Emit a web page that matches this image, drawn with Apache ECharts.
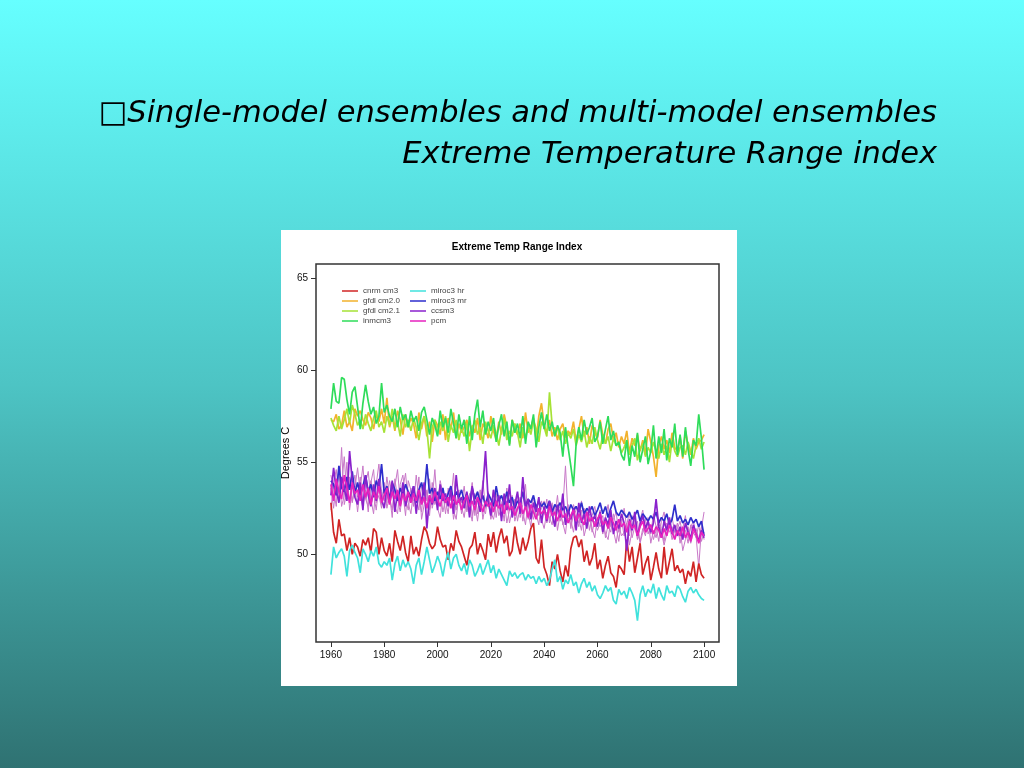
<!DOCTYPE html>
<html>
<head>
<meta charset="utf-8">
<script src="https://cdn.jsdelivr.net/npm/echarts@6/dist/echarts.min.js"></script>
<style>
html,body{margin:0;padding:0;}
#page{width:1024px;height:768px;background:linear-gradient(to bottom,#66FFFF 0%,#4DC4C4 50%,#2F7272 100%);}
#chart{width:1024px;height:768px;}
</style>
</head>
<body>
<div id="page"><div id="chart"></div></div>
<script>
const slideTitle1 = "□Single-model ensembles and multi-model ensembles";
const slideTitle2 = "Extreme Temperature Range index";
const plotTitle = "Extreme Temp Range Index";
const yAxisName = "Degrees C";
const xTicks = [1960,1980,2000,2020,2040,2060,2080,2100];
const yTicks = [50,55,60,65];
const years = [1960,1961,1962,1963,1964,1965,1966,1967,1968,1969,1970,1971,1972,1973,1974,1975,1976,1977,1978,1979,1980,1981,1982,1983,1984,1985,1986,1987,1988,1989,1990,1991,1992,1993,1994,1995,1996,1997,1998,1999,2000,2001,2002,2003,2004,2005,2006,2007,2008,2009,2010,2011,2012,2013,2014,2015,2016,2017,2018,2019,2020,2021,2022,2023,2024,2025,2026,2027,2028,2029,2030,2031,2032,2033,2034,2035,2036,2037,2038,2039,2040,2041,2042,2043,2044,2045,2046,2047,2048,2049,2050,2051,2052,2053,2054,2055,2056,2057,2058,2059,2060,2061,2062,2063,2064,2065,2066,2067,2068,2069,2070,2071,2072,2073,2074,2075,2076,2077,2078,2079,2080,2081,2082,2083,2084,2085,2086,2087,2088,2089,2090,2091,2092,2093,2094,2095,2096,2097,2098,2099,2100];

const cnrm = [52.8,51.2,50.6,51.9,51.0,51.1,50.2,50.9,50.0,50.6, 50.4,49.9,50.8,50.5,50.9,50.1,51.4,51.2,50.0,50.9, 50.2,49.9,50.6,49.6,51.3,50.7,50.2,51.0,50.1,49.6, 51.0,50.0,50.4,49.9,50.8,51.5,51.2,50.6,50.3,50.5, 51.5,50.8,50.4,50.5,49.7,50.6,50.2,51.3,50.7,50.4, 49.9,49.4,50.3,50.5,51.2,50.0,50.6,50.2,49.7,51.1, 50.4,51.2,50.1,50.9,51.4,50.6,51.0,49.9,50.2,51.5, 50.6,50.0,50.9,50.2,50.7,51.4,51.7,49.8,49.5,50.8, 49.3,48.9,48.3,49.6,49.2,50.0,49.1,48.5,49.4,48.8, 50.3,50.9,51.0,50.4,50.8,49.6,50.2,49.4,49.8,50.6, 49.2,49.7,48.7,49.4,49.9,49.0,48.8,48.2,49.4,49.2, 48.9,50.8,49.6,50.4,49.0,49.8,50.6,48.9,49.5,49.9, 48.6,49.3,50.1,49.2,48.7,50.4,48.9,49.6,50.3,49.1, 49.4,49.0,49.2,48.4,49.1,48.8,49.6,48.5,49.5,48.9, 48.7];
const gfdl20 = [57.3,57.2,57.6,56.8,57.0,57.8,56.9,57.2,56.7,57.9, 57.5,57.8,57.3,57.0,57.7,57.4,56.8,57.6,57.2,57.9, 57.1,58.5,56.9,57.5,56.7,57.8,57.3,56.5,57.6,56.9, 57.4,57.1,56.3,57.7,56.8,57.5,56.4,57.2,56.1,57.3, 57.0,56.5,57.6,56.2,57.4,56.8,57.7,56.3,57.1,56.6, 56.9,57.3,56.4,57.0,56.6,57.4,56.2,57.1,56.8,56.3, 57.5,56.7,56.2,57.2,56.5,57.6,56.9,56.0,57.3,56.8, 56.5,57.1,56.3,57.7,56.6,56.9,57.4,56.2,57.5,58.2, 57.0,56.6,57.3,56.4,56.9,56.2,56.8,57.1,56.3,56.7, 56.5,57.2,56.1,56.8,57.5,56.4,56.9,56.0,57.0,56.6, 56.3,57.3,56.5,56.0,56.8,57.1,56.2,56.6,55.8,56.4, 56.0,56.7,55.5,56.3,55.9,56.5,55.6,56.2,55.4,56.8, 56.1,55.3,54.2,55.9,56.4,55.7,56.2,55.5,56.6,55.8, 55.6,56.4,55.2,56.7,55.9,55.4,56.3,55.7,56.1,56.2, 56.5];
const gfdl21 = [57.4,57.0,56.7,57.5,56.8,57.3,57.9,57.1,58.1,57.6, 57.0,57.3,56.8,57.6,57.1,56.7,57.4,57.8,56.9,57.2, 56.6,57.5,57.0,57.9,56.8,57.2,56.4,57.6,56.9,57.3, 56.7,57.4,56.9,56.2,57.1,57.5,56.8,55.2,56.9,57.3, 56.5,57.2,56.7,57.5,56.1,57.0,56.6,57.3,56.2,56.9, 56.4,57.1,55.6,56.8,57.3,56.5,56.9,56.0,57.2,56.7, 56.3,57.0,56.6,55.9,56.8,57.4,56.2,56.7,56.4,57.1, 56.6,55.8,56.9,56.3,57.0,56.5,57.3,56.8,56.1,57.2, 56.9,56.4,58.8,57.0,56.5,56.9,56.2,56.7,56.0,56.6, 56.3,56.8,55.9,56.5,56.1,56.7,55.8,56.4,56.0,56.9, 56.2,55.7,56.5,56.0,56.4,55.6,56.3,55.9,56.1,55.5, 55.8,56.2,55.4,55.9,56.3,55.1,55.7,56.0,55.3,55.8, 55.5,56.1,55.6,55.2,56.0,55.4,55.9,55.0,56.2,55.6, 55.3,55.8,55.9,55.4,56.1,55.6,55.2,55.9,56.3,55.7, 56.1];
const inmcm3 = [57.9,59.3,58.3,58.2,59.6,59.5,58.4,57.6,58.8,59.1, 58.0,56.8,58.2,59.2,58.3,57.6,58.0,57.1,57.5,59.3, 57.7,58.1,57.5,57.2,57.9,56.9,58.0,57.3,57.6,56.9, 57.8,57.2,57.5,56.7,57.7,58.0,57.3,56.5,57.4,57.0, 56.4,57.8,56.9,57.4,56.6,57.9,57.1,56.3,57.6,56.8, 57.3,56.0,57.5,56.2,57.6,58.4,56.9,57.8,56.5,57.2, 56.7,57.4,56.1,57.0,57.6,56.4,57.2,55.9,57.3,56.6, 57.1,56.3,57.5,56.0,57.2,56.8,57.6,55.8,56.9,57.7, 56.8,57.6,56.7,57.2,56.4,57.0,56.6,55.3,56.9,55.8, 54.8,53.7,56.0,56.9,56.2,57.3,56.5,56.9,57.4,56.1, 56.4,57.2,56.0,56.8,57.5,56.2,56.7,55.9,56.1,55.4, 55.1,56.2,54.8,55.9,55.3,56.6,55.0,55.7,56.4,54.9, 55.6,57.0,55.2,56.4,55.5,56.8,55.1,56.3,55.8,57.1, 55.4,56.5,55.3,56.9,55.7,54.8,56.2,55.9,57.6,56.3, 54.6];
const miroc3hr = [48.9,50.4,49.8,50.1,50.3,49.9,48.8,50.2,50.5,50.1, 49.8,49.0,50.3,50.0,49.6,50.2,49.9,50.4,49.5,49.3, 49.6,49.4,49.8,48.6,49.5,49.9,49.1,49.7,49.3,49.6, 49.2,48.4,49.4,49.8,48.9,49.6,50.4,49.7,49.0,49.4, 49.9,49.5,48.8,49.6,50.1,49.2,49.8,50.0,49.4,49.1, 49.5,48.9,49.7,49.4,48.8,49.1,49.5,48.9,49.3,49.7, 49.0,49.4,48.7,49.2,48.9,48.6,48.3,49.1,48.8,49.0, 48.7,48.9,49.0,48.6,48.9,48.7,48.8,48.4,48.8,48.5, 48.7,48.3,48.6,49.2,49.7,48.5,48.8,48.1,48.6,48.4, 48.9,48.3,48.5,47.9,48.4,48.7,48.2,48.5,48.0,48.3, 47.8,47.6,47.9,48.3,48.0,48.2,47.5,47.3,48.1,47.8, 48.0,47.6,48.2,47.9,47.5,46.4,47.8,48.3,47.7,48.1, 47.9,48.4,47.6,48.2,47.8,47.5,48.3,47.9,48.0,47.7, 48.3,48.1,47.7,47.4,48.0,48.2,47.9,48.1,47.8,47.6, 47.5];
const miroc3mr = [54.0,53.8,53.2,54.8,53.6,53.4,54.2,53.5,54.5,53.3, 53.9,53.2,53.7,54.3,53.4,53.8,53.1,54.0,53.6,54.9, 53.3,53.7,53.0,53.9,53.5,52.9,53.6,53.2,53.8,53.4, 53.1,53.7,52.8,53.5,53.9,53.2,54.9,53.3,53.6,52.9, 53.4,53.0,53.6,52.8,53.3,53.7,52.9,53.4,53.1,53.5, 52.9,53.3,52.7,53.6,53.0,53.4,52.8,53.2,52.6,53.3, 53.0,52.6,53.7,52.9,53.2,52.7,53.4,52.8,53.1,52.5, 52.9,52.7,53.4,52.6,53.0,52.8,53.2,52.5,52.9,52.6, 52.8,52.5,52.9,52.3,52.7,52.5,52.8,52.4,52.6,52.2, 52.7,52.4,52.6,52.3,52.8,52.2,52.5,52.3,52.6,52.1, 52.4,52.8,52.2,52.6,52.0,52.5,52.9,52.3,52.1,52.4, 52.2,52.0,52.3,51.9,52.1,52.4,51.8,52.2,52.0,51.8, 52.1,51.9,52.3,51.7,52.0,51.8,52.2,51.6,51.9,52.7, 51.8,52.1,51.7,51.9,51.6,52.0,51.7,51.9,51.5,51.8, 51.0];
const ccsm3 = [53.2,54.7,53.5,52.8,54.2,53.6,52.9,55.6,54.0,53.1, 52.7,53.9,52.4,54.3,53.2,52.6,53.8,52.9,54.1,53.0, 52.5,53.6,52.8,54.0,52.3,53.4,52.7,53.9,52.6,53.3, 52.9,53.7,52.2,53.5,52.8,53.9,51.4,53.2,52.7,53.6, 52.4,53.8,52.9,53.3,52.6,53.5,52.2,54.3,52.8,53.1, 52.5,53.4,52.0,53.7,52.7,53.0,52.3,53.6,55.6,52.9, 52.1,53.5,52.6,53.2,51.8,53.3,52.4,53.8,52.0,52.7, 53.4,52.2,54.2,52.5,53.0,51.9,52.8,52.3,53.1,51.7, 52.6,51.8,52.9,52.2,51.5,52.7,52.0,53.3,51.6,52.4, 51.9,52.5,51.3,52.8,51.7,52.2,51.4,52.6,51.8,52.1, 51.5,52.3,51.2,52.0,51.6,52.4,51.1,51.8,51.4,52.2, 51.7,50.2,51.9,51.3,52.3,51.0,51.6,52.1,51.4,51.8, 51.2,51.7,53.0,51.5,50.9,51.8,51.3,52.0,51.1,51.6, 51.0,51.5,50.8,51.7,51.2,50.9,51.6,51.1,50.7,51.3, 50.9];
const pcm = [53.8,52.9,54.1,53.4,53.0,54.3,53.6,52.8,53.9,53.3, 53.5,52.9,53.8,53.1,53.6,52.7,53.4,53.0,53.7,52.8, 53.2,53.6,52.7,53.4,53.0,53.5,52.6,53.3,52.9,53.4, 52.8,53.3,52.9,53.5,52.7,53.1,52.5,53.2,52.8,53.4, 53.0,52.6,53.3,52.8,53.1,52.5,53.2,52.7,53.0,52.4, 52.9,53.2,52.6,52.9,52.4,53.1,52.7,52.3,52.9,52.6, 52.8,52.3,52.9,52.5,52.7,52.2,52.8,52.4,52.6,52.1, 52.5,52.8,52.2,52.6,52.0,52.7,52.3,51.9,52.5,52.2, 52.4,51.9,52.6,52.1,52.3,51.8,52.4,52.0,52.2,51.7, 52.1,52.4,51.8,52.2,51.9,51.6,52.3,51.8,52.0,51.5, 51.9,52.2,51.6,51.8,51.4,52.0,51.7,51.3,51.9,51.5, 51.7,51.2,51.8,51.4,51.6,51.0,51.5,51.8,51.2,51.4, 51.6,51.1,51.5,51.3,50.9,51.4,51.0,51.6,51.2,50.8, 51.3,51.0,51.5,50.9,51.2,50.7,51.4,51.1,50.6,51.2, 51.0];
const member1 = [54.3,53.5,52.6,54.8,53.7,55.3,53.0,54.1,52.8,53.6, 54.7,53.3,52.5,53.9,54.5,53.0,52.2,53.8,54.9,53.4, 52.9,54.2,53.1,52.4,53.7,54.6,52.8,53.3,52.1,54.0, 53.5,52.6,54.3,53.0,52.3,53.8,52.9,54.1,52.5,53.2, 52.7,54.0,53.3,52.2,53.6,52.9,54.4,52.4,53.1,52.8, 53.7,52.3,52.9,53.9,52.1,53.4,52.7,54.0,52.5,53.2, 52.6,53.5,52.0,53.1,52.8,51.8,53.6,52.4,53.0,52.2, 53.3,52.0,52.7,53.8,51.9,52.5,53.1,52.2,51.6,52.9, 52.3,53.0,51.7,52.6,52.1,53.2,51.8,52.5,54.8,52.0, 51.6,52.7,52.2,51.5,52.9,51.9,52.4,51.3,52.1,52.6, 51.8,52.4,51.1,52.0,52.7,51.5,51.9,52.3,51.2,51.7, 52.5,51.4,51.0,52.1,51.6,50.8,51.9,52.4,51.3,51.7, 51.1,52.2,51.5,50.7,51.8,52.3,51.0,51.6,52.0,51.2, 51.7,50.6,51.4,52.1,50.9,51.5,51.8,51.0,49.3,51.4, 52.3];
const member2 = [52.4,53.9,54.6,53.1,55.8,52.7,53.4,54.2,52.9,53.7, 52.3,53.6,54.8,53.0,52.6,54.0,53.3,52.4,53.8,52.7, 53.9,52.5,53.2,52.0,54.1,53.0,52.3,53.6,54.4,52.8, 52.2,53.4,52.9,54.2,51.9,52.7,53.5,52.4,53.0,54.6, 52.5,52.0,53.4,52.9,52.2,53.7,52.4,51.9,53.3,52.6, 52.0,53.1,52.5,51.8,53.3,52.2,53.5,51.9,52.7,53.0, 51.9,52.6,53.3,52.1,52.5,53.0,51.7,52.4,53.2,51.8, 52.4,53.1,51.8,52.6,52.3,51.5,52.8,52.0,52.5,51.9, 51.4,52.3,52.0,51.6,52.7,51.3,52.2,51.7,51.1,52.5, 51.9,51.2,52.1,51.7,52.4,51.0,51.6,52.2,51.4,50.9, 52.0,51.5,51.8,51.1,50.8,51.9,51.3,50.6,51.6,51.0, 51.2,51.7,50.5,51.3,51.9,51.1,50.7,51.4,51.0,52.0, 50.6,51.3,50.9,51.7,51.2,50.5,51.1,51.6,50.8,51.3, 51.0,51.4,50.2,50.8,51.5,50.6,51.2,50.9,51.6,50.7, 51.2];
const member3 = [53.6,52.5,53.8,54.5,52.6,53.2,55.0,52.4,53.5,54.3, 53.1,54.2,52.7,53.5,52.3,53.9,54.6,52.8,53.2,52.5, 53.7,52.8,54.0,53.3,52.6,52.2,53.8,54.3,53.0,52.4, 53.6,52.9,53.1,52.4,53.7,52.8,53.4,52.1,53.9,52.7, 53.2,53.6,52.3,53.0,52.7,53.4,51.9,52.8,53.5,52.2, 53.0,52.4,53.3,52.1,52.8,51.8,53.0,52.6,52.2,53.4, 52.3,51.9,52.7,53.1,52.0,52.6,52.9,51.7,52.4,53.0, 51.8,52.6,52.3,51.6,52.9,52.4,51.9,52.7,52.1,52.5, 52.9,51.7,52.3,52.8,51.5,52.4,52.6,51.6,52.0,52.7, 51.4,52.2,52.6,51.9,51.3,52.5,51.8,52.0,51.2,51.8, 51.3,51.7,52.1,50.9,51.6,51.2,52.2,51.5,50.7,51.9, 51.0,51.6,52.3,50.9,51.5,51.8,50.6,51.2,51.9,51.1, 51.6,50.8,51.3,51.9,51.4,50.7,51.7,51.2,51.5,50.9, 51.4,51.8,51.0,51.3,50.6,51.6,51.1,51.4,50.8,51.5, 50.8];

const mainSeries = [
  {name:'cnrm cm3', data:cnrm, color:'#D02424'},
  {name:'gfdl cm2.0', data:gfdl20, color:'#F2B22C'},
  {name:'gfdl cm2.1', data:gfdl21, color:'#A6E236'},
  {name:'inmcm3', data:inmcm3, color:'#2EDC5A'},
  {name:'miroc3 hr', data:miroc3hr, color:'#40E2DC'},
  {name:'miroc3 mr', data:miroc3mr, color:'#2E2ECC'},
  {name:'ccsm3', data:ccsm3, color:'#8A22CC'},
  {name:'pcm', data:pcm, color:'#E622BE'}
];
const thinSeries = [
  {name:'member 1', data:member1},
  {name:'member 2', data:member2},
  {name:'member 3', data:member3}
];

function pairs(vals){ return years.map((y,i)=>[y, vals[i]]); }

const series = [];
thinSeries.forEach(s=>{
  series.push({name:s.name, type:'line', data:pairs(s.data), showSymbol:false, symbol:'none',
    lineStyle:{width:1, color:'#C878C8'}, itemStyle:{color:'#C878C8'}, z:2, silent:true});
});
mainSeries.forEach((s,k)=>{
  series.push({name:s.name, type:'line', data:pairs(s.data), showSymbol:false, symbol:'none',
    lineStyle:{width:1.7, color:s.color}, itemStyle:{color:s.color}, z:3+k});
});

const chart = echarts.init(document.getElementById('chart'), null, {renderer:'canvas'});
chart.setOption({
  animation:false,
  backgroundColor:'transparent',
  graphic:[
    {type:'rect', z:-10, shape:{x:281, y:230, width:456, height:456}, style:{fill:'#ffffff'}},
    {type:'text', z:10, style:{text:slideTitle1, x:937, y:114, align:'right', verticalAlign:'middle',
      font:'italic 30.5px "DejaVu Sans"', fill:'#000'}},
    {type:'text', z:10, style:{text:slideTitle2, x:937, y:155, align:'right', verticalAlign:'middle',
      font:'italic 30.5px "DejaVu Sans"', fill:'#000'}},
    {type:'text', z:10, style:{text:plotTitle, x:517, y:247, align:'center', verticalAlign:'middle',
      font:'bold 10px "Liberation Sans", Arial', fill:'#000'}},
    {type:'text', z:10, rotation:Math.PI/2, x:286, y:453, style:{text:yAxisName, x:0, y:0, align:'center', verticalAlign:'middle',
      font:'11px "Liberation Sans", Arial', fill:'#000'}}
  ],
  grid:{left:316, top:264, width:403, height:378, show:true, borderColor:'#333', borderWidth:1.5, backgroundColor:'transparent'},
  legend:[
    {data:['cnrm cm3','gfdl cm2.0','gfdl cm2.1','inmcm3'], orient:'vertical', left:337, top:282,
      icon:'rect', itemWidth:16, itemHeight:1.5, itemGap:2, selectedMode:false,
      textStyle:{fontSize:8, color:'#444', fontFamily:'"Liberation Sans", Arial', lineHeight:8}},
    {data:['miroc3 hr','miroc3 mr','ccsm3','pcm'], orient:'vertical', left:405, top:282,
      icon:'rect', itemWidth:16, itemHeight:1.5, itemGap:2, selectedMode:false,
      textStyle:{fontSize:8, color:'#444', fontFamily:'"Liberation Sans", Arial', lineHeight:8}}
  ],
  xAxis:{type:'value', min:1954.4, max:2105.6,
    axisLine:{show:false}, splitLine:{show:false},
    axisTick:{show:true, inside:false, length:5, lineStyle:{color:'#333'}, customValues:xTicks},
    axisLabel:{show:true, margin:8, fontSize:10, color:'#111', fontFamily:'"Liberation Sans", Arial', customValues:xTicks,
      formatter:function(v){ return String(v); }}},
  yAxis:{type:'value', min:45.24, max:65.76,
    axisLine:{show:false}, splitLine:{show:false},
    axisTick:{show:true, inside:false, length:5, lineStyle:{color:'#333'}, customValues:yTicks},
    axisLabel:{show:true, margin:8, fontSize:10, color:'#111', fontFamily:'"Liberation Sans", Arial', customValues:yTicks,
      formatter:function(v){ return String(v); }}},
  series:series
});
</script>
</body>
</html>
